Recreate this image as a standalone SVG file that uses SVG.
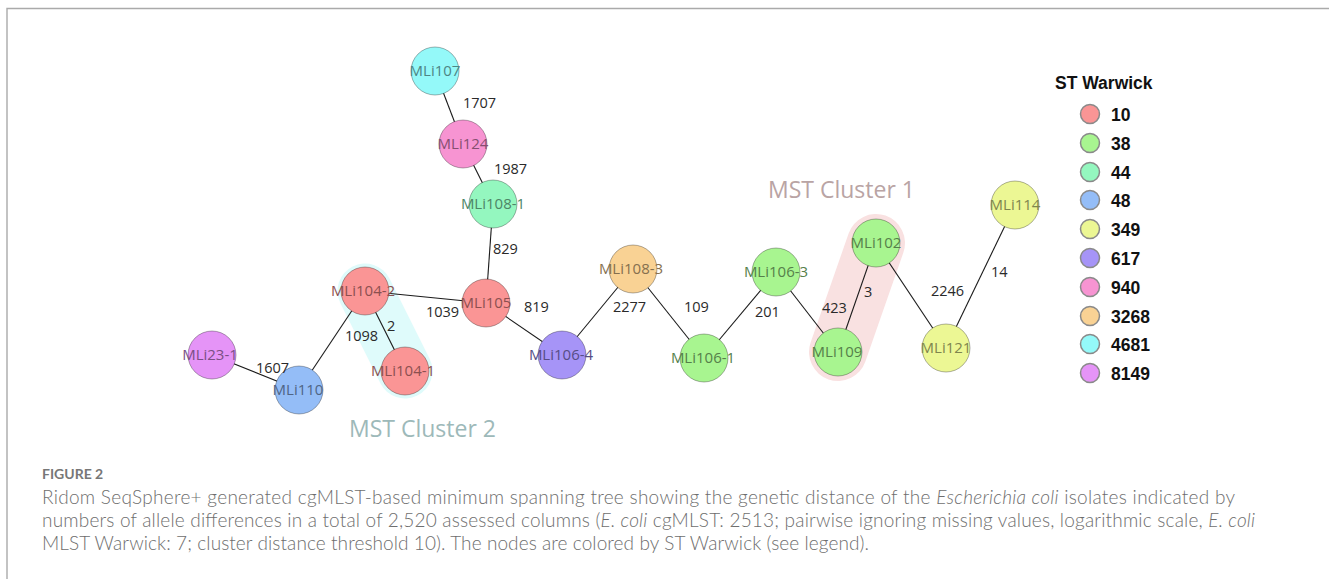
<svg xmlns="http://www.w3.org/2000/svg" width="1329" height="579" viewBox="0 0 1329 579">
<style>
.frame{stroke:#aaaaaa;stroke-width:1.4;fill:none}
.edge{stroke:#1a1a1a;stroke-width:1.1}
.el{font-family:"Open Sans","DejaVu Sans",sans-serif;font-size:14.5px;fill:#2a2a2a}
.nl{font-family:"Open Sans","DejaVu Sans",sans-serif;font-size:15px;text-anchor:middle}
.node{stroke-width:1;stroke-opacity:0.3;stroke:#000}
.c10{fill:#fa9595}.t10{fill:#8c5050}
.c38{fill:#a8f590}.t38{fill:#56804a}
.c44{fill:#94f7bf}.t44{fill:#4e8566}
.c48{fill:#94bdf7}.t48{fill:#4f6585}
.c349{fill:#ecf794}.t349{fill:#7f854e}
.c617{fill:#a694f7}.t617{fill:#574d85}
.c940{fill:#f794d2}.t940{fill:#854f70}
.c3268{fill:#f9d294}.t3268{fill:#86704e}
.c4681{fill:#94f9f9}.t4681{fill:#4e8585}
.c8149{fill:#e594f7}.t8149{fill:#7a4f85}
.cl{font-family:"Open Sans","DejaVu Sans",sans-serif;font-size:23px}
.lg{font-family:"Liberation Sans",Arial,sans-serif;font-weight:bold;font-size:17.5px;fill:#111}
.ld{stroke:#8a8a8a;stroke-width:1.5}
.cap{font-family:Lato,"Open Sans",sans-serif;font-size:19px;font-weight:300;fill:#6e6e6e}
.fig{font-family:Lato,"Open Sans",sans-serif;font-size:14px;font-weight:bold;fill:#777777}
</style>
<path class="frame" d="M7 579 V8.5 H1329"/>
<g id="clusters">
<line x1="365" y1="291" x2="405" y2="371" stroke="#dffbfb" stroke-width="55" stroke-linecap="round"/>
<line x1="876" y1="243" x2="838" y2="352" stroke="#f9e1e1" stroke-width="58" stroke-linecap="round"/>
<text class="cl" x="768" y="198" fill="#b9a4a4">MST Cluster 1</text>
<text class="cl" x="349" y="437" fill="#9db9b9">MST Cluster 2</text>
</g>
<g id="connectors">
<line class="edge" x1="435" y1="71" x2="463" y2="144"/>
<line class="edge" x1="463" y1="144" x2="493" y2="204"/>
<line class="edge" x1="493" y1="204" x2="486" y2="303"/>
<line class="edge" x1="365" y1="291" x2="486" y2="303"/>
<line class="edge" x1="486" y1="303" x2="562" y2="355"/>
<line class="edge" x1="365" y1="291" x2="299" y2="390"/>
<line class="edge" x1="365" y1="291" x2="405" y2="371"/>
<line class="edge" x1="212" y1="355" x2="299" y2="390"/>
<line class="edge" x1="562" y1="355" x2="633" y2="269"/>
<line class="edge" x1="633" y1="269" x2="704" y2="358"/>
<line class="edge" x1="704" y1="358" x2="776" y2="272"/>
<line class="edge" x1="776" y1="272" x2="838" y2="352"/>
<line class="edge" x1="838" y1="352" x2="876" y2="243"/>
<line class="edge" x1="876" y1="243" x2="946" y2="348"/>
<line class="edge" x1="946" y1="348" x2="1015" y2="205"/>
</g>
<g id="n-MLi107"><circle class="node c4681" cx="435" cy="71" r="24"/><text class="nl t4681" x="435" y="76">MLi107</text></g>
<g id="n-MLi124"><circle class="node c940" cx="463" cy="144" r="24"/><text class="nl t940" x="463" y="149">MLi124</text></g>
<g id="n-MLi108-1"><circle class="node c44" cx="493" cy="204" r="24"/><text class="nl t44" x="493" y="209">MLi108-1</text></g>
<g id="n-MLi104-2"><circle class="node c10" cx="365" cy="291" r="24"/><text class="nl t10" x="363" y="296">MLi104-2</text></g>
<g id="n-MLi105"><circle class="node c10" cx="486" cy="303" r="24"/><text class="nl t10" x="486" y="308">MLi105</text></g>
<g id="n-MLi23-1"><circle class="node c8149" cx="212" cy="355" r="24"/><text class="nl t8149" x="210" y="360">MLi23-1</text></g>
<g id="n-MLi110"><circle class="node c48" cx="299" cy="390" r="24"/><text class="nl t48" x="298" y="395">MLi110</text></g>
<g id="n-MLi104-1"><circle class="node c10" cx="405" cy="371" r="24"/><text class="nl t10" x="403" y="376">MLi104-1</text></g>
<g id="n-MLi106-4"><circle class="node c617" cx="562" cy="355" r="24"/><text class="nl t617" x="561" y="360">MLi106-4</text></g>
<g id="n-MLi108-3"><circle class="node c3268" cx="633" cy="269" r="24"/><text class="nl t3268" x="631" y="274">MLi108-3</text></g>
<g id="n-MLi106-1"><circle class="node c38" cx="704" cy="358" r="24"/><text class="nl t38" x="703" y="363">MLi106-1</text></g>
<g id="n-MLi106-3"><circle class="node c38" cx="776" cy="272" r="24"/><text class="nl t38" x="776" y="277">MLi106-3</text></g>
<g id="n-MLi109"><circle class="node c38" cx="838" cy="352" r="24"/><text class="nl t38" x="837" y="357">MLi109</text></g>
<g id="n-MLi102"><circle class="node c38" cx="876" cy="243" r="24"/><text class="nl t38" x="876" y="248">MLi102</text></g>
<g id="n-MLi121"><circle class="node c349" cx="946" cy="348" r="24"/><text class="nl t349" x="946" y="353">MLi121</text></g>
<g id="n-MLi114"><circle class="node c349" cx="1015" cy="205" r="24"/><text class="nl t349" x="1015" y="210">MLi114</text></g>
<g id="edge-labels">
<text class="el" x="463" y="108">1707</text>
<text class="el" x="494" y="174">1987</text>
<text class="el" x="493" y="254">829</text>
<text class="el" x="426" y="317">1039</text>
<text class="el" x="524" y="312">819</text>
<text class="el" x="345" y="341">1098</text>
<text class="el" x="387" y="331">2</text>
<text class="el" x="256" y="373">1607</text>
<text class="el" x="613" y="312">2277</text>
<text class="el" x="684" y="312">109</text>
<text class="el" x="755" y="317">201</text>
<text class="el" x="822" y="313">423</text>
<text class="el" x="864" y="297">3</text>
<text class="el" x="931" y="296">2246</text>
<text class="el" x="991" y="277">14</text>
</g>
<g id="legend">
<text class="lg" x="1055" y="89">ST Warwick</text>
<circle class="ld c10" cx="1090" cy="114" r="9.5"/><text class="lg" x="1111" y="121">10</text>
<circle class="ld c38" cx="1090" cy="143" r="9.5"/><text class="lg" x="1111" y="150">38</text>
<circle class="ld c44" cx="1090" cy="172" r="9.5"/><text class="lg" x="1111" y="179">44</text>
<circle class="ld c48" cx="1090" cy="200" r="9.5"/><text class="lg" x="1111" y="207">48</text>
<circle class="ld c349" cx="1090" cy="229" r="9.5"/><text class="lg" x="1111" y="236">349</text>
<circle class="ld c617" cx="1090" cy="258" r="9.5"/><text class="lg" x="1111" y="265">617</text>
<circle class="ld c940" cx="1090" cy="287" r="9.5"/><text class="lg" x="1111" y="294">940</text>
<circle class="ld c3268" cx="1090" cy="316" r="9.5"/><text class="lg" x="1111" y="323">3268</text>
<circle class="ld c4681" cx="1090" cy="344" r="9.5"/><text class="lg" x="1111" y="351">4681</text>
<circle class="ld c8149" cx="1090" cy="373" r="9.5"/><text class="lg" x="1111" y="380">8149</text>
</g>
<g id="caption">
<text class="fig" x="42" y="479">FIGURE 2</text>
<text class="cap" x="42" y="504" textLength="1193" lengthAdjust="spacing">Ridom SeqSphere+ generated cgMLST-based minimum spanning tree showing the genetic distance of the <tspan font-style="italic">Escherichia coli</tspan> isolates indicated by</text>
<text class="cap" x="42" y="527" textLength="1213" lengthAdjust="spacing">numbers of allele differences in a total of 2,520 assessed columns (<tspan font-style="italic">E. coli</tspan> cgMLST: 2513; pairwise ignoring missing values, logarithmic scale, <tspan font-style="italic">E. coli</tspan></text>
<text class="cap" x="42" y="550" textLength="827" lengthAdjust="spacing">MLST Warwick: 7; cluster distance threshold 10). The nodes are colored by ST Warwick (see legend).</text>
</g>
</svg>
